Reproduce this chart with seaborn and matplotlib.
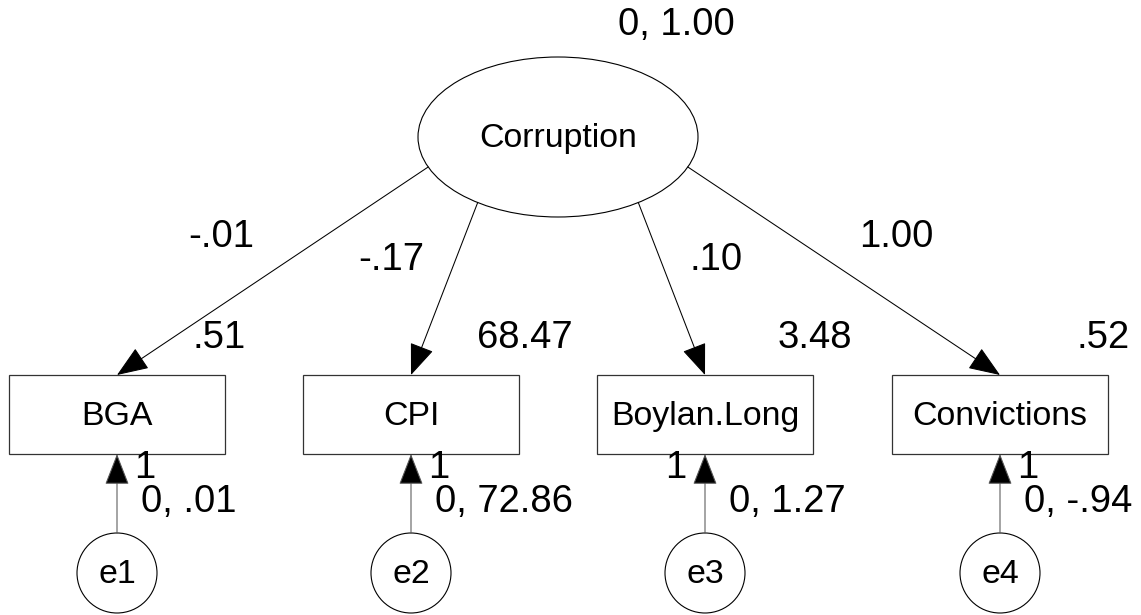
"""Path diagram of a one-factor measurement model (Corruption)."""

import matplotlib

matplotlib.use("Agg")
import matplotlib.pyplot as plt
from matplotlib.patches import Ellipse, Circle, Rectangle
import numpy as np
import seaborn as sns

# model values
latent = "Corruption"
latent_param = "0, 1.00"
indicators = ["BGA", "CPI", "Boylan.Long", "Convictions"]
errors = ["e1", "e2", "e3", "e4"]
loadings = ["-.01", "-.17", ".10", "1.00"]
intercepts = [".51", "68.47", "3.48", ".52"]
error_params = ["0, .01", "0, 72.86", "0, 1.27", "0, -.94"]
fixed_path = "1"

# layout (pixel units, y downward)
W, H = 1141, 615
node_x = [117, 411, 705, 1000]
box_top, box_h, box_w = 375, 79, 216
err_y, err_r = 573, 40
lat_c, lat_w, lat_h = (558, 137), 280, 160
attach_deg = [158, 125, 55, 22]
loading_xy = [(221, 247), (391, 270), (716, 270), (896, 247)]
intercept_x = [219, 525, 815, 1103]
one_side = ["right", "right", "left", "right"]

sns.set_theme(style="white")
plt.rcParams["font.family"] = ["Liberation Sans", "DejaVu Sans"]
plt.rcParams["text.color"] = "black"

fig = plt.figure(figsize=(W / 100, H / 100), dpi=100)
ax = fig.add_axes([0, 0, 1, 1])
ax.set_xlim(0, W)
ax.set_ylim(H, 0)
ax.set_axis_off()

num_fs = 27.5
node_fs = 24.4
arrow = "-|>,head_length=2.0,head_width=0.78"

# latent variable
ax.add_patch(Ellipse(lat_c, lat_w, lat_h, fill=False, ec="black", lw=0.8))
ax.text(lat_c[0], 147, latent, ha="center", va="baseline", fontsize=node_fs)
ax.text(676, 35, latent_param, ha="center", va="baseline", fontsize=num_fs)

for i, name in enumerate(indicators):
    cx = node_x[i]
    # observed box
    ax.add_patch(Rectangle((cx - box_w / 2, box_top), box_w, box_h,
                           fill=False, ec="#333333", lw=0.9))
    ax.text(cx, 425, name, ha="center", va="baseline", fontsize=node_fs)

    # loading arrow from ellipse edge
    t = np.deg2rad(attach_deg[i])
    sx = lat_c[0] + lat_w / 2 * np.cos(t)
    sy = lat_c[1] + lat_h / 2 * np.sin(t)
    ax.annotate("", xy=(cx, box_top), xytext=(sx, sy),
                arrowprops=dict(arrowstyle=arrow, mutation_scale=10,
                                color="black", lw=0.75,
                                shrinkA=0, shrinkB=0))
    ax.text(*loading_xy[i], loadings[i], ha="center", va="baseline", fontsize=num_fs)
    ax.text(intercept_x[i], 348, intercepts[i], ha="center", va="baseline", fontsize=num_fs)

    # error term
    ax.add_patch(Circle((cx, err_y), err_r, fill=False, ec="black", lw=0.8))
    ax.text(cx, 583, errors[i], ha="center", va="baseline", fontsize=node_fs)
    ax.annotate("", xy=(cx, box_top + box_h), xytext=(cx, err_y - err_r),
                arrowprops=dict(arrowstyle=arrow, mutation_scale=10,
                                color="black", lw=0.75, ec="#555555",
                                shrinkA=0, shrinkB=0))
    if one_side[i] == "right":
        ax.text(cx + 17, 478, fixed_path, ha="left", va="baseline", fontsize=num_fs)
    else:
        ax.text(cx - 19, 478, fixed_path, ha="right", va="baseline", fontsize=num_fs)
    ax.text(cx + 24, 512, error_params[i], ha="left", va="baseline", fontsize=num_fs)

fig.savefig("out.png", dpi=100, facecolor="white")
